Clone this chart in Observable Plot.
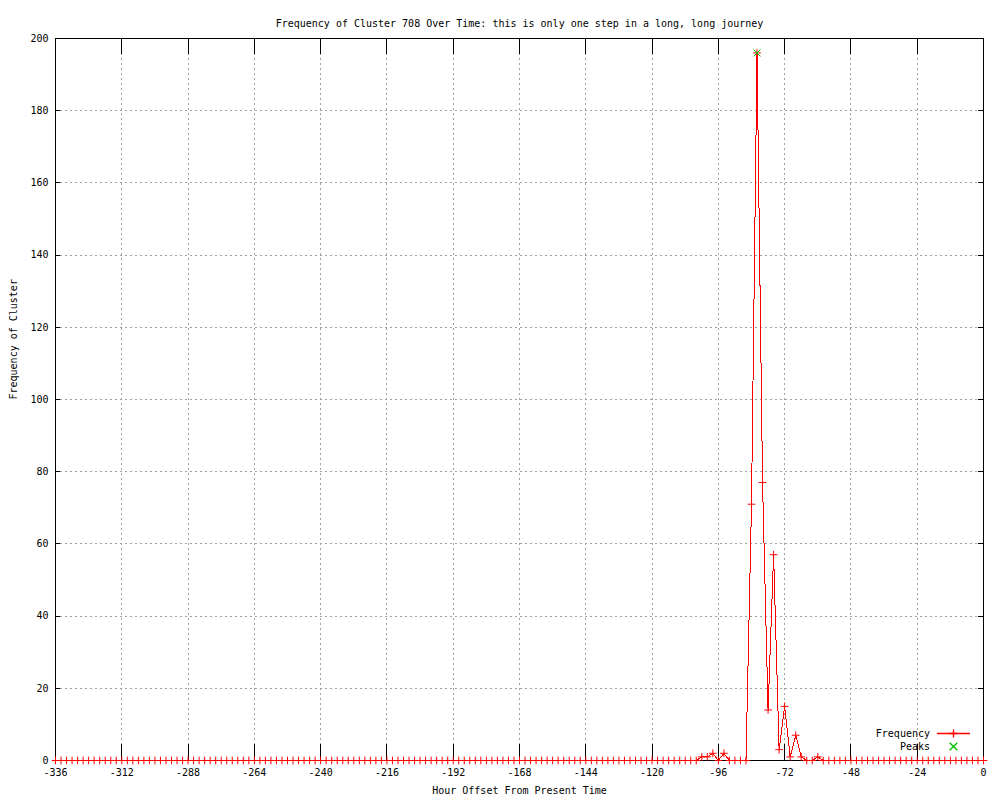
<!DOCTYPE html>
<html>
<head>
<meta charset="utf-8">
<script src="https://cdn.jsdelivr.net/npm/d3@7"></script>
<script src="https://cdn.jsdelivr.net/npm/@observablehq/plot@0.6"></script>
<style>
  html, body { margin: 0; padding: 0; background: #fff; }
  #chart { position: relative; width: 1000px; height: 800px; }
  #chart svg { display: block; }
  #legend { position: absolute; left: 860px; top: 720px; }
</style>
</head>
<body>
<div id="chart"></div>
<script>
// ---- Data ----
const hours = [
  -336,-334,-332,-330,-328,-326,-324,-322,-320,-318,-316,-314,
  -312,-310,-308,-306,-304,-302,-300,-298,-296,-294,-292,-290,
  -288,-286,-284,-282,-280,-278,-276,-274,-272,-270,-268,-266,
  -264,-262,-260,-258,-256,-254,-252,-250,-248,-246,-244,-242,
  -240,-238,-236,-234,-232,-230,-228,-226,-224,-222,-220,-218,
  -216,-214,-212,-210,-208,-206,-204,-202,-200,-198,-196,-194,
  -192,-190,-188,-186,-184,-182,-180,-178,-176,-174,-172,-170,
  -168,-166,-164,-162,-160,-158,-156,-154,-152,-150,-148,-146,
  -144,-142,-140,-138,-136,-134,-132,-130,-128,-126,-124,-122,
  -120,-118,-116,-114,-112,-110,-108,-106,-104,-102,-100,-98,
  -96,-94,-92,-90,-88,-86,-84,-82,-80,-78,-76,-74,
  -72,-70,-68,-66,-64,-62,-60,-58,-56,-54,-52,-50,
  -48,-46,-44,-42,-40,-38,-36,-34,-32,-30,-28,-26,
  -24,-22,-20,-18,-16,-14,-12,-10,-8,-6,-4,-2,
  0
];
const counts = [
  0,0,0,0,0,0,0,0,0,0,0,0,
  0,0,0,0,0,0,0,0,0,0,0,0,
  0,0,0,0,0,0,0,0,0,0,0,0,
  0,0,0,0,0,0,0,0,0,0,0,0,
  0,0,0,0,0,0,0,0,0,0,0,0,
  0,0,0,0,0,0,0,0,0,0,0,0,
  0,0,0,0,0,0,0,0,0,0,0,0,
  0,0,0,0,0,0,0,0,0,0,0,0,
  0,0,0,0,0,0,0,0,0,0,0,0,
  0,0,0,0,0,0,0,0,0,1,1,2,
  0,2,0,0,0,0,71,196,77,14,57,3,
  15,1,7,1,0,0,1,0,0,0,0,0,
  0,0,0,0,0,0,0,0,0,0,0,0,
  0,0,0,0,0,0,0,0,0,0,0,0,
  0
];
const peakHours = [-82];
const peakCounts = [196];

const xTicks = [-336,-312,-288,-264,-240,-216,-192,-168,-144,-120,-96,-72,-48,-24,0];
const yTicks = [0,20,40,60,80,100,120,140,160,180,200];

const titleText = "Frequency of Cluster 708 Over Time: this is only one step in a long, long journey";
const xLabel = "Hour Offset From Present Time";
const yLabel = "Frequency of Cluster";
const seriesNames = ["Frequency", "Peaks"];

// ---- Tables built from the arrays ----
const freq = hours.map((h, i) => ({h, c: counts[i]}));
const peaks = peakHours.map((h, i) => ({h, c: peakCounts[i]}));

const W = 1000, H = 800, mt = 38, mb = 40, ml = 55, mr = 17;
const pw = W - ml - mr, ph = H - mt - mb;
const font = "'DejaVu Sans Mono', monospace";
const red = "#ff0000", green = "#00c000", gridColor = "#a0a0a0";

const chart = Plot.plot({
  width: W, height: H,
  marginTop: mt, marginBottom: mb, marginLeft: ml, marginRight: mr,
  style: {fontFamily: font, fontSize: "10px", background: "#fff", color: "#000"},
  x: {domain: [-336, 0]},
  y: {domain: [0, 200]},
  marks: [
    Plot.ruleX(xTicks.slice(1, -1), {stroke: gridColor, strokeDasharray: "2,3", shapeRendering: "crispEdges"}),
    Plot.ruleY(yTicks.slice(1, -1), {stroke: gridColor, strokeDasharray: "2,3", shapeRendering: "crispEdges"}),
    Plot.ruleX(xTicks, {stroke: "#000", insetTop: ph - 16, shapeRendering: "crispEdges"}),
    Plot.ruleX(xTicks, {stroke: "#000", insetBottom: ph - 16, shapeRendering: "crispEdges"}),
    Plot.ruleY(yTicks, {stroke: "#000", insetRight: pw - 5, shapeRendering: "crispEdges"}),
    Plot.ruleY(yTicks, {stroke: "#000", insetLeft: pw - 5, shapeRendering: "crispEdges"}),
    Plot.axisX(xTicks, {tickSize: 0, tickPadding: 8, tickFormat: d => String(d), label: null, fontSize: 10}),
    Plot.axisY(yTicks, {tickSize: 0, tickPadding: 7, tickFormat: d => String(d), label: null, fontSize: 10}),
    Plot.line(freq, {x: "h", y: "c", stroke: red, strokeWidth: 1, shapeRendering: "crispEdges"}),
    Plot.frame({stroke: "#000", shapeRendering: "crispEdges"}),
    Plot.dot(freq, {x: "h", y: "c", symbol: "plus", r: 2.6, stroke: red, strokeWidth: 1}),
    Plot.dot(peaks, {x: "h", y: "c", symbol: "times", r: 3.3, stroke: green, strokeWidth: 1}),
    Plot.text([titleText], {frameAnchor: "top", dy: -19, fontSize: 10}),
    Plot.text([xLabel], {frameAnchor: "bottom", dy: 33, fontSize: 10}),
    Plot.text([yLabel], {frameAnchor: "left", dx: -42, rotate: -90, fontSize: 10})
  ]
});
const root = document.getElementById("chart");
root.appendChild(chart);

// ---- Legend (gnuplot-style key, bottom right inside the frame) ----
const lg = d3.select(root).append("svg")
  .attr("id", "legend").attr("width", 125).attr("height", 36)
  .style("font-family", font).style("font-size", "10px");
const rows = [
  {name: seriesNames[0], y: 13.5, color: red, line: true, sym: d3.symbolPlus, size: 24},
  {name: seriesNames[1], y: 26.5, color: green, line: false, sym: d3.symbolTimes, size: 40}
];
rows.forEach(r => {
  lg.append("text").attr("x", 70).attr("y", r.y).attr("dy", "0.32em")
    .attr("text-anchor", "end").attr("fill", "#000").text(r.name);
  if (r.line) {
    lg.append("line").attr("x1", 77).attr("x2", 110).attr("y1", r.y).attr("y2", r.y)
      .attr("stroke", r.color).attr("stroke-width", 1.6);
  }
  lg.append("path").attr("transform", `translate(93.5,${r.y})`)
    .attr("d", d3.symbol(r.sym, r.size)())
    .attr("fill", "none").attr("stroke", r.color).attr("stroke-width", 1.4);
});
</script>
</body>
</html>
